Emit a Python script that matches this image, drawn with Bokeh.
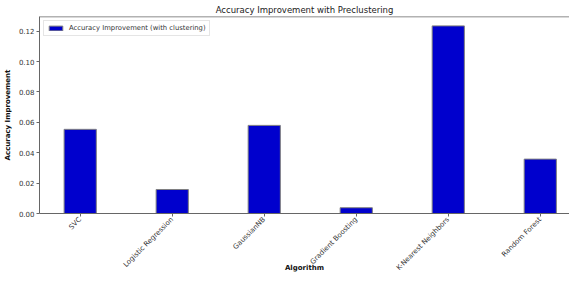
from bokeh.plotting import figure
from bokeh.models import Range1d, FixedTicker, NumeralTickFormatter, Legend, LegendItem, Span
from bokeh.embed import file_html
from bokeh.resources import INLINE
import math

algorithms = ["SVC", "Logistic Regression", "GaussianNB", "Gradient Boosting",
              "K-Nearest Neighbors", "Random Forest"]
improvement = [0.0554, 0.0158, 0.0580, 0.0038, 0.1235, 0.0358]
y_ticks = [0.00, 0.02, 0.04, 0.06, 0.08, 0.10, 0.12]
series_label = "Accuracy Improvement (with clustering)"
x_title = "Algorithm"
y_title = "Accuracy Improvement"

positions = list(range(len(algorithms)))
bar_width = 0.35
y_top = max(improvement) * 1.05

FONT = "DejaVu Sans"
TXT = "#333333"
AX = "#666666"

p = figure(width=569, height=274, output_backend="svg", toolbar_location=None,
           x_range=Range1d(-0.4425, 5.3175), y_range=Range1d(0, y_top),
           min_border_left=31, min_border_right=0, min_border_top=0, min_border_bottom=0,
           title="Accuracy Improvement with Preclustering")
p.title.align = "center"
p.title.text_font = FONT
p.title.text_font_size = "8.5px"
p.title.text_font_style = "normal"
p.title.text_color = "#222222"
p.title.standoff = 4
p.title.offset = 0

r = p.vbar(x=positions, top=improvement, width=bar_width, fill_color="#0000cd",
           line_color="#808080", line_width=1)

p.xgrid.visible = False
p.ygrid.visible = False
p.outline_line_color = None

top_line = Span(location=y_top, dimension="width", line_color=AX, line_width=1.5)
p.add_layout(top_line)

xa = p.below[0]
ya = p.left[0]

xa.ticker = FixedTicker(ticks=positions)
xa.major_label_overrides = {i: a for i, a in enumerate(algorithms)}
xa.major_label_orientation = math.pi / 4
xa.axis_label = x_title

ya.ticker = FixedTicker(ticks=y_ticks)
ya.formatter = NumeralTickFormatter(format="0.00")
ya.axis_label = y_title

for ax in (xa, ya):
    ax.axis_line_color = AX
    ax.major_tick_line_color = AX
    ax.minor_tick_line_color = None
    ax.major_tick_out = 3
    ax.major_tick_in = 0
    ax.major_label_text_font = FONT
    ax.major_label_text_font_size = "7px"
    ax.major_label_text_color = TXT
    ax.major_label_standoff = 2
    ax.axis_label_text_font = FONT
    ax.axis_label_text_font_size = "7px"
    ax.axis_label_text_font_style = "bold"
    ax.axis_label_text_color = "#111111"
    ax.axis_label_standoff = 4
xa.major_label_standoff = 2
xa.axis_label_standoff = -14

legend = Legend(items=[LegendItem(label=series_label, renderers=[r])],
                location="top_left")
legend.label_text_font = FONT
legend.label_text_font_size = "6.8px"
legend.label_text_color = TXT
legend.glyph_width = 17
legend.glyph_height = 6
legend.label_height = 8
legend.label_standoff = 5
legend.padding = 3
legend.margin = 4
legend.spacing = 0
legend.border_line_color = "#cccccc"
legend.background_fill_alpha = 0.8
p.add_layout(legend)

open("out.html", "w").write(file_html(p, INLINE))
